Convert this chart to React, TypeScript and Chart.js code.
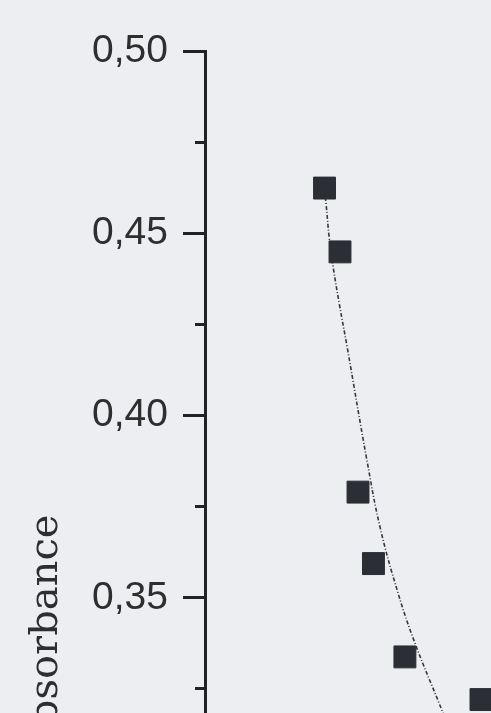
import React, { useEffect, useRef } from "react";
import { Chart, registerables } from "chart.js";

Chart.register(...registerables);

// Measured points (x in arbitrary units, y = absorbance)
const pointX = [4.18, 4.72, 5.35, 5.89, 6.99, 9.65];
const pointY = [0.4624, 0.4449, 0.379, 0.3594, 0.3338, 0.3221];

// Fitted decay curve (dash-dot)
const fitX = [4.16, 4.23, 4.34, 4.48, 4.69, 4.97, 5.66, 6.12, 6.75, 7.34, 8.18, 8.46];
const fitY = [0.4624, 0.4583, 0.449, 0.4408, 0.4309, 0.4188, 0.3878, 0.3694, 0.3513, 0.3376, 0.3212, 0.3157];

const yMin = 0.18;
const yMax = 0.5;
const yStep = 0.025;
const yTitle = "Absorbance";

const isMajor = (v: number) => Math.abs(Math.round(v / 0.05) * 0.05 - v) < 1e-6;

export default function App() {
  const ref = useRef<HTMLCanvasElement | null>(null);

  useEffect(() => {
    if (!ref.current) return;
    const chart = new Chart(ref.current, {
      type: "scatter",
      data: {
        datasets: [
          {
            type: "line",
            data: fitX.map((x, i) => ({ x, y: fitY[i] })),
            borderColor: "#34363c",
            borderWidth: 1.6,
            borderDash: [4, 2, 1, 2],
            pointRadius: 0,
            tension: 0.4,
            fill: false,
            order: 2,
          },
          {
            data: pointX.map((x, i) => ({ x, y: pointY[i] })),
            pointStyle: "rect",
            pointRadius: 15.5,
            backgroundColor: "#2b2e35",
            borderColor: "#2b2e35",
            borderWidth: 1,
            order: 1,
          },
        ],
      },
      options: {
        animation: false,
        responsive: false,
        devicePixelRatio: 1,
        layout: { autoPadding: false, padding: { top: 51, bottom: 0, left: 0, right: 0 } },
        plugins: { legend: { display: false }, tooltip: { enabled: false } },
        scales: {
          x: { type: "linear", display: false, min: 0, max: 10 },
          y: {
            type: "linear",
            min: yMin,
            max: yMax,
            afterFit: (s: any) => {
              s.width = 205;
            },
            border: { display: true, color: "#222", width: 3 },
            grid: {
              drawOnChartArea: false,
              drawTicks: true,
              tickLength: 22,
              tickWidth: 3,
              tickColor: "#222",
              tickBorderDash: (ctx: any) =>
                ctx.tick && isMajor(ctx.tick.value) ? [] : [0, 12, 10, 0],
            },
            ticks: {
              stepSize: yStep,
              autoSkip: false,
              padding: 15,
              color: "#2e2e2e",
              font: { family: "Liberation Sans", size: 39 },
              callback: (v: any) => (isMajor(Number(v)) ? Number(v).toFixed(2).replace(".", ",") : ""),
            },
            title: {
              display: true,
              text: yTitle,
              color: "#2e2e2e",
              font: { family: "DejaVu Serif", size: 40 },
              padding: { top: 23, bottom: 0 },
            },
          },
        },
      },
    });
    return () => chart.destroy();
  }, []);

  return (
    <div
      style={{
        position: "fixed",
        left: 0,
        top: 0,
        width: 491,
        height: 713,
        overflow: "hidden",
        background: "#eceef2",
      }}
    >
      <canvas ref={ref} width={491} height={1256} style={{ display: "block" }} />
    </div>
  );
}
